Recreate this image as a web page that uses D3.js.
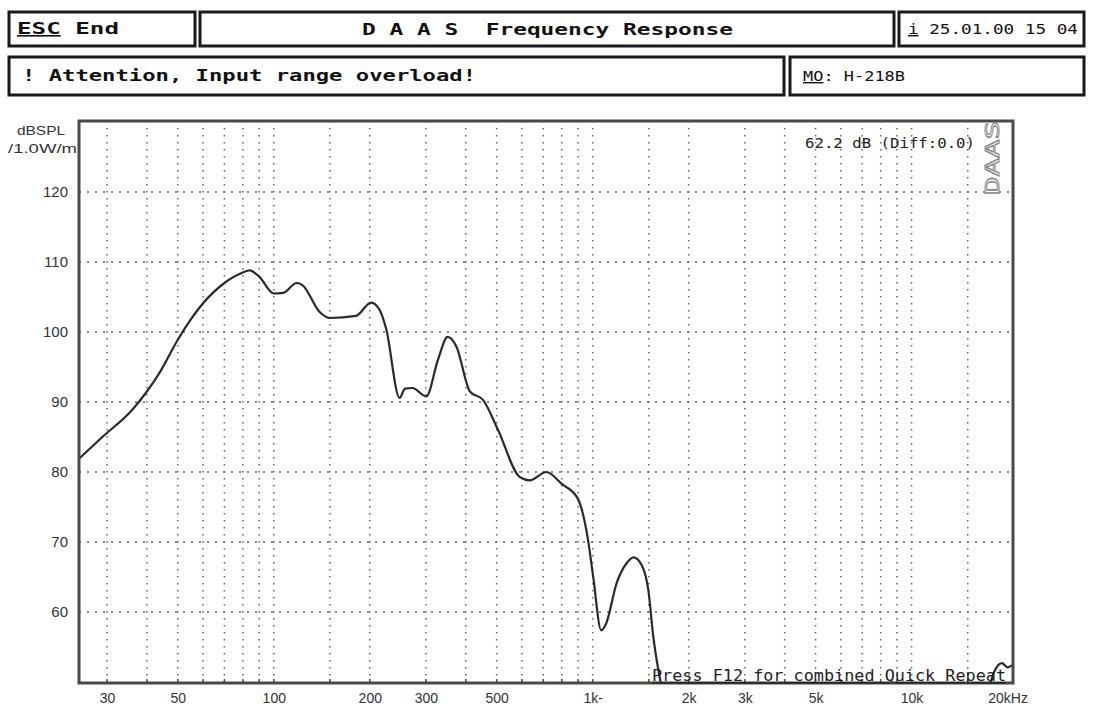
<!DOCTYPE html>
<html><head><meta charset="utf-8">
<script src="https://cdn.jsdelivr.net/npm/d3@7"></script>
<style>
html,body{margin:0;padding:0;background:#fff;}
svg{display:block;}
.mono{font-family:"DejaVu Sans Mono",monospace;font-weight:bold;fill:#111;}
.lbl{font-family:"Liberation Sans",Arial,sans-serif;fill:#333;}
</style></head>
<body>
<svg id="c" width="1094" height="722"></svg>
<script>
// ---- data ----
const freqDomain = [24.5, 20800];
const dbDomain = [50, 130];
const xTickFreqs = [30, 50, 100, 200, 300, 500, 1000, 2000, 3000, 5000, 10000, 20000];
const xTickLabels = ["30", "50", "100", "200", "300", "500", "1k-", "2k", "3k", "5k", "10k", "20kHz"];
const xGridFreqs = [30,40,50,60,70,80,90,100,150,200,300,400,500,600,700,800,900,1000,1500,2000,3000,4000,5000,6000,7000,8000,9000,10000,15000];
const yTicks = [60, 70, 80, 90, 100, 110, 120];
// frequency response (Hz, dB SPL); null = curve out of view
const respFreq = [24.5,29,36,40,44,50,60,70,80,84,90,100,107,118,123,139,150,181,202,215,225,248,258,272,301,327,351,374,412,453,505,590,635,716,800,898,967,1004,1063,1103,1188,1279,1343,1424,1495,1549,1607,1650,
  null,
  17600,18100,19200,20000,20700];
const respDb = [81.9,85,88.9,91.5,94.3,98.9,104.1,107,108.5,108.8,107.9,105.5,105.6,107,106.7,102.9,102,102.3,104.2,103.1,100.5,90.6,91.9,92,90.8,96,99.3,97.9,91.5,90.3,86,79.3,78.8,80,78.3,76.2,70.3,65,57.4,58.4,64.1,67,67.8,66.7,63.1,56.5,51.7,49,
  null,
  49.5,51.3,52.7,52.1,52.4];

// ---- chart ----
const svg = d3.select("#c");
const L = 79, R = 1013, T = 121, B = 683;
const x = d3.scaleLog().domain(freqDomain).range([L, R]);
const y = d3.scaleLinear().domain(dbDomain).range([682, 122]);

// header boxes
const boxes = [[9,12,186,34],[200,12,694,34],[899,12,185,34],[9,57,775,38],[790,57,294,38]];
svg.selectAll("rect.box").data(boxes).join("rect").attr("class","box")
  .attr("x",d=>d[0]).attr("y",d=>d[1]).attr("width",d=>d[2]).attr("height",d=>d[3])
  .attr("fill","#fff").attr("stroke","#1a1a1a").attr("stroke-width",3);

function htext(xp, yp, parts, len, size, weight){
  const t = svg.append("text").attr("class","mono").attr("x",xp).attr("y",yp)
    .attr("font-size",size||15).style("white-space","pre")
    .attr("textLength",len).attr("lengthAdjust","spacingAndGlyphs");
  if(weight) t.style("font-weight",weight);
  parts.forEach(p=>{ const s=t.append("tspan").text(p[0]); if(p[1]) s.attr("text-decoration","underline"); });
  return t;
}
htext(17, 34, [["ESC",1],[" End"]], 102, 16);
htext(362, 35, [["D A A S  Frequency Response"]], 371, 16);
htext(908, 34, [["i",1],[" 25.01.00 15 04"]], 170, 14, "normal");
htext(22, 81, [["! Attention, Input range overload!"]], 454, 16);
htext(803, 81, [["MO",1],[": H-218B"]], 102, 14, "normal");

// grid
const g = svg.append("g");
g.selectAll("line.vg").data(xGridFreqs).join("line").attr("class","vg")
  .attr("x1",d=>x(d)).attr("x2",d=>x(d)).attr("y1",T).attr("y2",B)
  .attr("stroke","#666").attr("stroke-width",1.5).attr("stroke-dasharray","1.6,5.4");
g.selectAll("line.hg").data(yTicks).join("line").attr("class","hg")
  .attr("x1",L).attr("x2",R).attr("y1",d=>y(d)).attr("y2",d=>y(d))
  .attr("stroke","#666").attr("stroke-width",1.5).attr("stroke-dasharray","2,6");

// curve
svg.append("clipPath").attr("id","clip").append("rect").attr("x",L).attr("y",T).attr("width",R-L).attr("height",B-T);
const pts = respFreq.map((f,i)=>({f:f, v:respDb[i]}));
const line = d3.line().defined(d=>d.f!==null).x(d=>x(d.f)).y(d=>y(d.v)).curve(d3.curveMonotoneX);
svg.append("path").datum(pts).attr("d",line).attr("fill","none").attr("stroke","#2a2a2a")
  .attr("stroke-width",2.2).attr("clip-path","url(#clip)");

// frame
svg.append("rect").attr("x",L).attr("y",T).attr("width",R-L).attr("height",B-T)
  .attr("fill","none").attr("stroke","#4a4a4a").attr("stroke-width",3);
svg.append("g").selectAll("line").data(xGridFreqs).join("line")
  .attr("x1",d=>x(d)).attr("x2",d=>x(d)).attr("y1",B-4).attr("y2",B)
  .attr("stroke","#4a4a4a").attr("stroke-width",1.5);

// axes labels
const ya = svg.append("g").attr("transform",`translate(${L-11},0)`)
  .call(d3.axisLeft(y).tickValues(yTicks).tickSize(0).tickPadding(0));
ya.select(".domain").remove();
ya.selectAll("text").attr("font-size",15).attr("fill","#333").attr("font-family","Liberation Sans, Arial, sans-serif");

const xa = svg.append("g").attr("transform",`translate(0,${B+8})`)
  .call(d3.axisBottom(x).tickValues(xTickFreqs).tickFormat((d,i)=>xTickLabels[i]).tickSize(0).tickPadding(2));
xa.select(".domain").remove();
xa.selectAll("text").attr("font-size",14).attr("fill","#333").attr("font-family","Liberation Sans, Arial, sans-serif");

svg.append("text").attr("class","lbl").attr("x",17).attr("y",135).attr("font-size",13)
  .attr("textLength",48).attr("lengthAdjust","spacingAndGlyphs").text("dBSPL");
svg.append("text").attr("class","lbl").attr("x",8).attr("y",153).attr("font-size",13)
  .attr("textLength",69).attr("lengthAdjust","spacingAndGlyphs").text("/1.0W/m");

// in-plot annotations
svg.append("text").attr("x",805).attr("y",148)
  .attr("font-family","DejaVu Sans Mono, monospace").attr("font-size",14).attr("fill","#222")
  .attr("textLength",170).attr("lengthAdjust","spacingAndGlyphs")
  .style("white-space","pre").text("62.2 dB (Diff:0.0)");
svg.append("text").attr("transform","translate(999,195) rotate(-90)")
  .attr("font-family","DejaVu Sans Mono, monospace").attr("font-size",19).attr("fill","#fff")
  .attr("textLength",74).attr("lengthAdjust","spacingAndGlyphs")
  .attr("stroke","#888").attr("stroke-width",1).text("DAAS");
svg.append("text").attr("x",652).attr("y",681)
  .attr("font-family","DejaVu Sans Mono, monospace").attr("font-size",15).attr("fill","#222")
  .attr("textLength",354).attr("lengthAdjust","spacingAndGlyphs")
  .attr("text-decoration","underline").style("white-space","pre").text("Press F12 for combined Quick Repeat");
</script>
</body></html>
